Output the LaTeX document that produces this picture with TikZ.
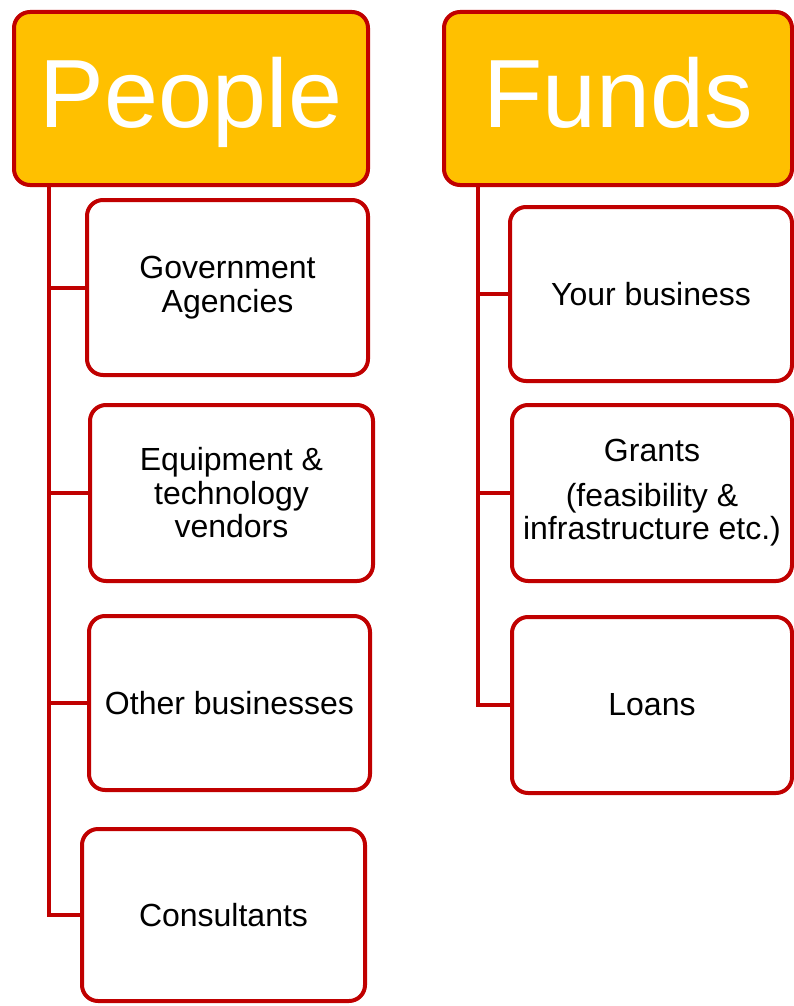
\documentclass[tikz,border=0pt]{standalone}
\usepackage{fontspec}
\setmainfont{Liberation Sans}
\definecolor{hdrgold}{HTML}{FFC000}
\definecolor{hdrred}{HTML}{C00000}
\begin{document}
\begin{tikzpicture}[x=1pt,y=-1pt,
  header/.style={draw=hdrred, fill=hdrgold, line width=4pt, rounded corners=16pt,
    text=white, font=\fontsize{97}{100}\selectfont, text height=71pt, text depth=12pt,
    inner sep=0pt, minimum height=173pt},
  itembox/.style={draw=hdrred, fill=white, line width=4pt, rounded corners=16pt,
    text=black, font=\fontsize{32}{33.5}\selectfont, align=center,
    inner sep=0pt, minimum height=175pt},
  branch/.style={draw=hdrred, line width=4pt}
]
\useasboundingbox (0,0) rectangle (794,1006);
% headers
\node[header, minimum width=354pt] (people) at (191,98.5) {People};
\node[header, minimum width=348pt] (funds) at (618,98.5) {Funds};
% People items
\node[itembox, minimum width=281pt] (gov) at (227.5,287.5) {Government\\Agencies};
\node[itembox, minimum width=283pt, minimum height=176pt] (equip) at (231.5,493) {Equipment \&\\technology\\vendors};
\node[itembox, minimum width=281pt, minimum height=174pt] (other) at (229.5,703) {Other businesses};
\node[itembox, minimum width=283pt, minimum height=172pt] (cons) at (223.5,915) {Consultants};
% Funds items
\node[itembox, minimum width=282pt, minimum height=174pt] (yourb) at (651,294) {Your business};
\node[itembox, minimum width=280pt, minimum height=176pt] (grants) at (652,493) {Grants\\[11pt](feasibility \&\\infrastructure etc.)};
\node[itembox, minimum width=280pt, minimum height=176pt] (loans) at (652,705) {Loans};
% connectors
\coordinate (ptop) at (49,187);
\coordinate (ftop) at (478,187);
\draw[branch] (ptop) |- (cons.west);
\draw[branch] (ptop |- gov.west) -- (gov.west);
\draw[branch] (ptop |- equip.west) -- (equip.west);
\draw[branch] (ptop |- other.west) -- (other.west);
\draw[branch] (ftop) |- (loans.west);
\draw[branch] (ftop |- yourb.west) -- (yourb.west);
\draw[branch] (ftop |- grants.west) -- (grants.west);
\end{tikzpicture}
\end{document}
